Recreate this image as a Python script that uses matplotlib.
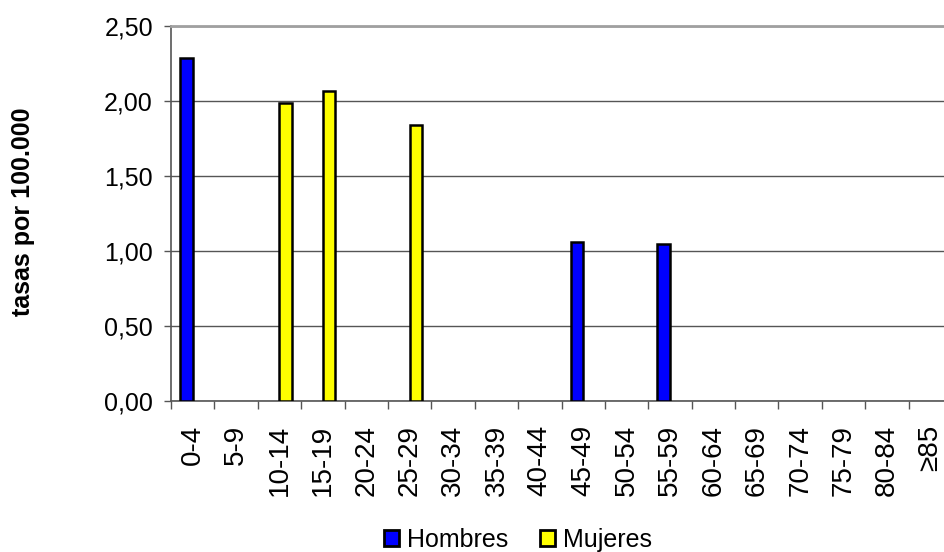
import matplotlib
matplotlib.use("Agg")
import numpy as np
from matplotlib import pyplot as plt
from matplotlib.patches import Patch
from matplotlib.ticker import FuncFormatter

plt.rcParams['font.family'] = ['Liberation Sans', 'DejaVu Sans']

# age groups and rates per 100.000
grupos = ["0-4", "5-9", "10-14", "15-19", "20-24", "25-29", "30-34", "35-39",
          "40-44", "45-49", "50-54", "55-59", "60-64", "65-69", "70-74",
          "75-79", "80-84", "\u226585"]
hombres = [2.29, 0, 0, 0, 0, 0, 0, 0, 0, 1.06, 0, 1.05, 0, 0, 0, 0, 0, 0]
mujeres = [0, 0, 1.99, 2.07, 0, 1.84, 0, 0, 0, 0, 0, 0, 0, 0, 0, 0, 0, 0]
yticks = [0, 0.5, 1.0, 1.5, 2.0, 2.5]

fig = plt.figure(figsize=(9.44, 5.52), dpi=100)
# plot area runs a bit past the right edge, as in the reference
ax = fig.add_axes([171/944, 1-401/552, 781/944, 375/552])

x = np.arange(len(grupos))
w = 0.29
b1 = ax.bar(x - w/2, hombres, w, color="#0000ff", edgecolor="black", linewidth=1.8,
            zorder=3)
b2 = ax.bar(x + w/2, mujeres, w, color="#ffff00", edgecolor="black", linewidth=1.8,
            zorder=3)
# zero bars are not drawn
for p in list(b1) + list(b2):
    if p.get_height() == 0:
        p.set_visible(False)

ax.set_xlim(-0.5, len(grupos) - 0.5)
ax.set_ylim(0, 2.5)
ax.set_yticks(yticks)
ax.yaxis.set_major_formatter(FuncFormatter(lambda v, p: ("%.2f" % v).replace(".", ",")))
ax.set_xticks(x)
ax.set_xticklabels(grupos, rotation=90)
ax.set_xticks(np.arange(len(grupos) + 1) - 0.5, minor=True)
ax.tick_params(axis='x', which='major', length=0, pad=17, labelsize=20)
ax.tick_params(axis='x', which='minor', length=6, width=1, color="#555555")
ax.tick_params(axis='y', length=5, width=1, color="#555555", pad=8, labelsize=18)

ax.grid(axis='y', color="#555555", linewidth=1, zorder=0)
for s in ["left", "bottom"]:
    ax.spines[s].set_color("#555555")
    ax.spines[s].set_linewidth(1.2)
ax.spines["top"].set_color("#a0a0a0")
ax.spines["top"].set_linewidth(2)
ax.spines["right"].set_visible(False)

fig.text(23/944, 1-212/552, "tasas por 100.000", rotation=90, fontsize=18,
         fontweight="bold", ha="center", va="center")

handles = [Patch(facecolor="#0000ff", edgecolor="black", linewidth=2, label="Hombres"),
           Patch(facecolor="#ffff00", edgecolor="black", linewidth=2, label="Mujeres")]
fig.legend(handles=handles, loc="center", bbox_to_anchor=(518/944, 1-540/552), ncol=2,
           frameon=False, fontsize=18, handlelength=0.6, handleheight=0.6,
           handletextpad=0.3, columnspacing=1.3, borderpad=0)

fig.savefig("out.png", dpi=100)
